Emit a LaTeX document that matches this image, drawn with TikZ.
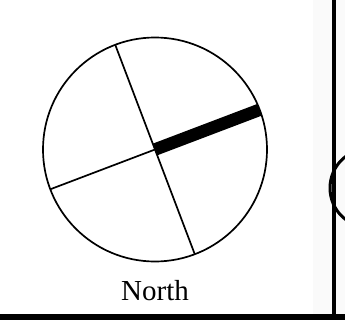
\documentclass[tikz,border=0pt]{standalone}
\usepackage{fontspec}
\setmainfont{Liberation Serif}
\begin{document}
\begin{tikzpicture}[x=1pt,y=-1pt,
  thin line/.style={line width=1.7pt},
  bar/.style={line width=12.5pt,line cap=butt},
  frame line/.style={line width=4.5pt}]
\useasboundingbox (0,0) rectangle (345,324);
\fill[black!2] (313,0) rectangle (345,316);
% dial
\coordinate (C) at (155,149.5);
\coordinate (T) at ([shift={(-110.8:112)}]C);
\coordinate (B) at ([shift={(69.2:112)}]C);
\coordinate (L) at ([shift={(159.2:112)}]C);
\coordinate (R) at ([shift={(-20.8:112)}]C);
\node[circle,draw,line width=1.7pt,minimum size=224pt,inner sep=0pt] (dial) at (C) {};
\draw[thin line] (T) -- (B);
\draw[thin line] (L) -- (C);
\begin{scope}
\clip (C) circle (112);
\draw[bar] (C) -- ([shift={(-20.8:120)}]C);
\end{scope}
\node[font=\fontsize{29}{30}\selectfont,anchor=base] (lbl) at (155,300.5) {North};
% right partial arc
\begin{scope}
\clip (300,0) rectangle (345,324);
\draw[line width=3pt] (369.5,188) circle (39.5);
\end{scope}
% frame lines
\coordinate (vt) at (334,0);
\coordinate (vb) at (334,317);
\draw[frame line] (vt) -- (vb);
\coordinate (hl) at (0,317);
\coordinate (hr) at (345,317);
\draw[line width=6pt] (hl) -- (hr);
\end{tikzpicture}
\end{document}
